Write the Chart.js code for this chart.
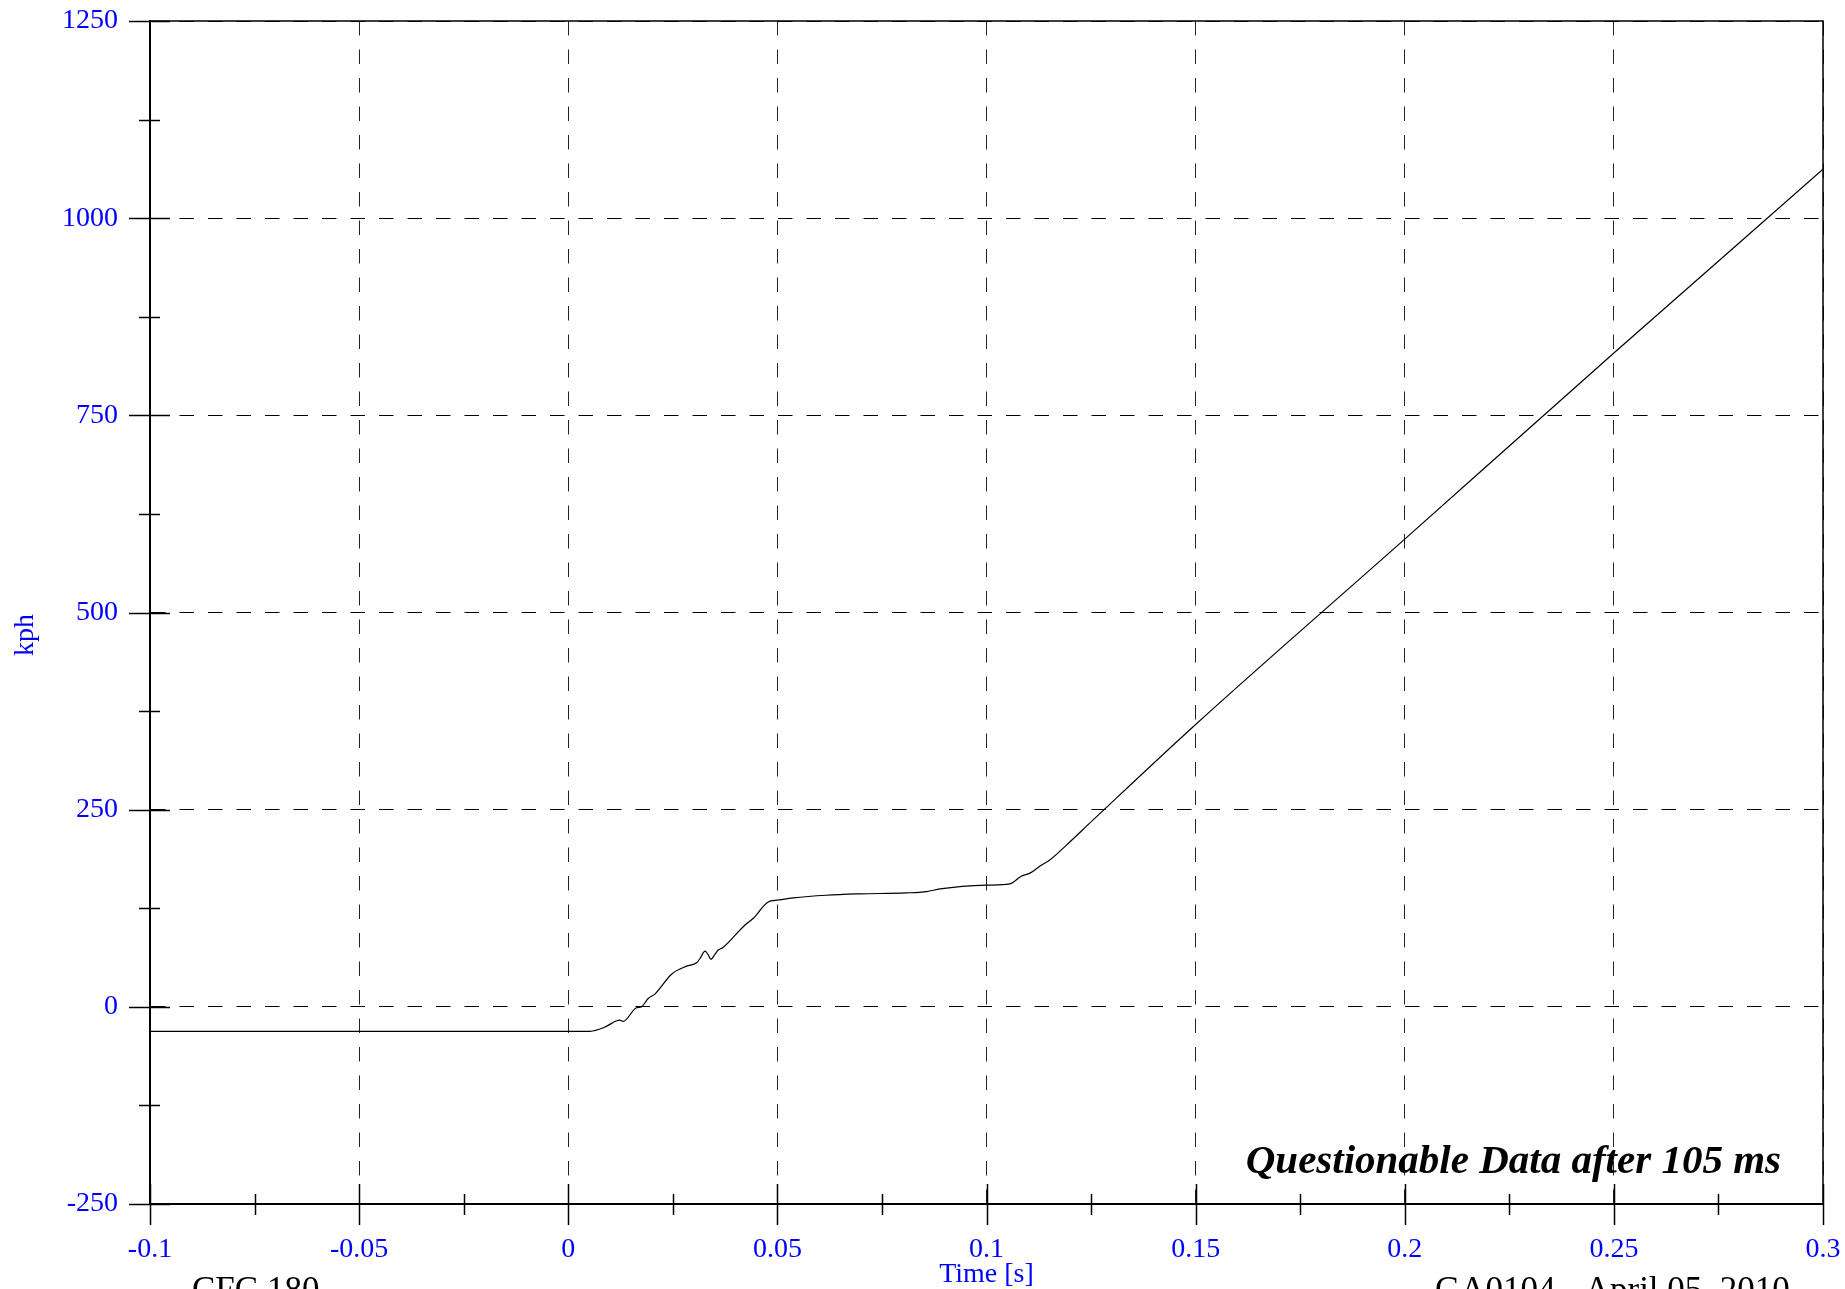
<!DOCTYPE html>
<html>
<head>
<meta charset="utf-8">
<script src="https://cdn.jsdelivr.net/npm/chart.js@4/dist/chart.umd.min.js"></script>
<style>
  html, body { margin: 0; padding: 0; background: #ffffff; }
  #wrap { width: 1845px; height: 1289px; position: relative; }
  canvas { display: block; }
</style>
</head>
<body>
<div id="wrap"><canvas id="c" width="1845" height="1289"></canvas></div>
<script>
// ---- Data ----
const timeSeconds = [
  -0.1, 0.0, 0.0052, 0.0084, 0.0116, 0.01235, 0.0131, 0.0163, 0.0175, 0.0191,
  0.0207, 0.0247, 0.0283, 0.0307, 0.0315, 0.0327, 0.0335, 0.0341, 0.0351, 0.0358,
  0.0370, 0.0422, 0.0442, 0.0478, 0.0500, 0.0538, 0.0617, 0.0697, 0.0809, 0.0857,
  0.0889, 0.1000, 0.1056, 0.1084, 0.1104, 0.1128, 0.1152, 0.1191, 0.1255, 0.15,
  0.2, 0.25, 0.3
];
const speedKph = [
  -31, -31, -31, -26.6, -17.7, -16.9, -18.5, -1.2, 0, 10.6,
  16.1, 41.4, 51.6, 55.8, 61.3, 70.6, 65.5, 60.4, 66.8, 71.8,
  75.2, 103.5, 112, 133, 135.2, 138.1, 141.5, 143.2, 144.5, 146.2,
  149.5, 154.2, 155.9, 166, 169.5, 178.5, 186.5, 205, 237, 358,
  593, 829, 1062
];
const xTickLabels = ['-0.1', '-0.05', '0', '0.05', '0.1', '0.15', '0.2', '0.25', '0.3'];
const yTickLabels = ['-250', '0', '250', '500', '750', '1000', '1250'];
const xAxisTitle = 'Time [s]';
const yAxisTitle = 'kph';
const noteText = 'Questionable Data after 105 ms';
const footLeft = 'CFC 180';
const footRight = 'GA0104 - April 05, 2010';

const SERIF = '"Liberation Serif", "Times New Roman", "DejaVu Serif", serif';
const BLUE = '#0000ff';

const points = timeSeconds.map((t, i) => ({ x: t, y: speedKph[i] }));

function noPad(s) {
  s.paddingLeft = 0; s.paddingRight = 0; s.paddingTop = 0; s.paddingBottom = 0;
}

const decor = {
  id: 'decor',
  afterDraw(chart) {
    const { ctx, chartArea: a, scales: { x, y } } = chart;
    ctx.save();
    ctx.strokeStyle = '#000';
    // top and right frame
    ctx.lineWidth = 1.5;
    ctx.beginPath();
    ctx.moveTo(a.left, a.top);
    ctx.lineTo(a.right, a.top);
    ctx.lineTo(a.right, a.bottom);
    ctx.stroke();
    // tick marks crossing the axes (major + minor)
    ctx.lineWidth = 1.5;
    const xv = x.ticks.map(t => t.value);
    const yv = y.ticks.map(t => t.value);
    ctx.beginPath();
    xv.forEach((v, i) => {
      const px = Math.round(x.getPixelForValue(v)) + 0.5;
      ctx.moveTo(px, a.bottom - 20); ctx.lineTo(px, a.bottom + 21);
      if (i < xv.length - 1) {
        const mx = Math.round(x.getPixelForValue((v + xv[i + 1]) / 2)) + 0.5;
        ctx.moveTo(mx, a.bottom - 10); ctx.lineTo(mx, a.bottom + 11);
      }
    });
    yv.forEach((v, i) => {
      const py = Math.round(y.getPixelForValue(v)) + 0.5;
      ctx.moveTo(a.left - 21, py); ctx.lineTo(a.left + 20, py);
      if (i < yv.length - 1) {
        const my = Math.round(y.getPixelForValue((v + yv[i + 1]) / 2)) + 0.5;
        ctx.moveTo(a.left - 11, my); ctx.lineTo(a.left + 10, my);
      }
    });
    ctx.stroke();

    // y axis title
    ctx.fillStyle = BLUE;
    ctx.font = '28px ' + SERIF;
    ctx.textAlign = 'center';
    ctx.textBaseline = 'middle';
    ctx.save();
    ctx.translate(26, 635);
    ctx.rotate(-Math.PI / 2);
    ctx.fillText(yAxisTitle, 0, 0);
    ctx.restore();

    // note inside the plot
    ctx.fillStyle = '#000';
    ctx.font = 'italic bold 41px ' + SERIF;
    ctx.textAlign = 'right';
    ctx.textBaseline = 'alphabetic';
    ctx.fillText(noteText, 1781, 1173);

    // footer texts (partly cut off at the bottom edge)
    ctx.font = '35px ' + SERIF;
    ctx.textAlign = 'left';
    ctx.fillText(footLeft, 192, 1301);
    ctx.fillText(footRight, 1435, 1301);
    ctx.restore();
  }
};

new Chart(document.getElementById('c'), {
  type: 'line',
  data: {
    datasets: [{
      data: points,
      borderColor: '#000000',
      borderWidth: 1.2,
      pointRadius: 0,
      fill: false,
      cubicInterpolationMode: 'monotone'
    }]
  },
  options: {
    responsive: false,
    animation: false,
    devicePixelRatio: 1,
    layout: { padding: { top: 21, right: 22, left: 0, bottom: 0 } },
    plugins: { legend: { display: false }, tooltip: { enabled: false }, title: { display: false } },
    scales: {
      x: {
        type: 'linear',
        min: -0.1, max: 0.3,
        afterFit: s => { s.height = 85; noPad(s); },
        ticks: {
          stepSize: 0.05,
          autoSkip: false,
          maxRotation: 0,
          padding: 29,
          color: BLUE,
          font: { family: SERIF, size: 28 },
          callback: (v, i) => xTickLabels[i]
        },
        grid: { color: '#222', lineWidth: 1, drawTicks: false },
        border: { display: true, color: '#000', width: 2, dash: [14.5, 14] },
        title: {
          display: true, text: xAxisTitle, color: BLUE,
          font: { family: SERIF, size: 28, lineHeight: 1.0 },
          padding: { top: 0, bottom: 0 }
        }
      },
      y: {
        min: -250, max: 1250,
        afterFit: s => { s.width = 150; noPad(s); },
        ticks: {
          stepSize: 250,
          autoSkip: false,
          padding: 32,
          color: BLUE,
          font: { family: SERIF, size: 28 },
          callback: (v, i) => yTickLabels[i]
        },
        grid: { color: '#000', lineWidth: 1, drawTicks: false },
        border: { display: true, color: '#000', width: 2, dash: [14.5, 14] }
      }
    }
  },
  plugins: [decor]
});
</script>
</body>
</html>
